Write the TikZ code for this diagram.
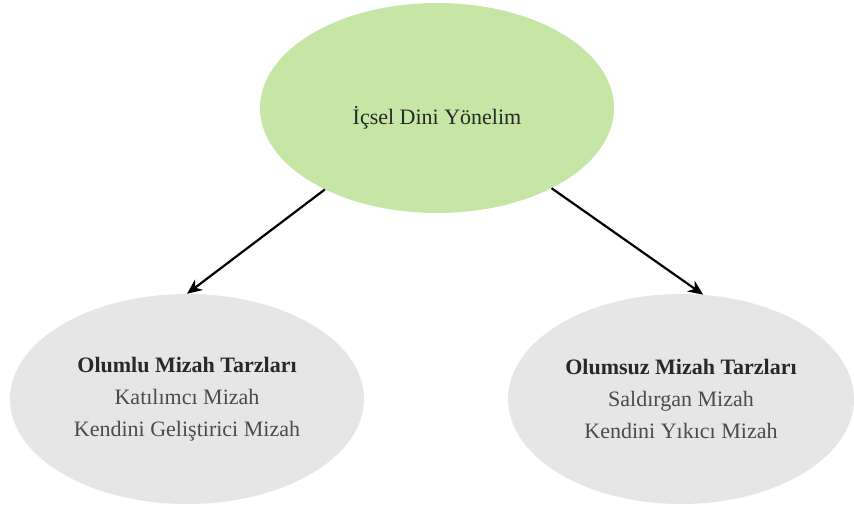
\documentclass[tikz,border=0pt]{standalone}
\usepackage{fontspec}
\setmainfont{Liberation Serif}
\usepackage{xcolor}
\usetikzlibrary{shapes.geometric, arrows.meta}

\definecolor{yesilDolgu}{RGB}{198,230,166}
\definecolor{griDolgu}{RGB}{230,230,230}
\definecolor{koyuYazi}{RGB}{40,40,40}
\definecolor{acikYazi}{RGB}{75,75,75}

\begin{document}
\begin{tikzpicture}[
		    x=1pt, y=-1pt,
		    every node/.style={ellipse, inner sep=0pt, align=center, font=\fontsize{22}{32}\selectfont},
		    ok/.style={line width=2.2pt, -{Stealth[length=15pt, width=13pt]}}
		]
		\tikzset{
		    yesil/.style={fill=yesilDolgu, text=koyuYazi, minimum width=354pt, minimum height=210pt},
		    gri/.style={fill=griDolgu, text=acikYazi, minimum height=210pt}
		}
		\useasboundingbox (0,0) rectangle (854,509);
		\node[yesil] (icsel) at (437,108) {\raisebox{-9pt}[20pt][5pt]{İçsel Dini Yönelim}};
		\node[gri, minimum width=354pt] (olumlu) at (187,399)
		  {\textcolor{koyuYazi}{\textbf{Olumlu Mizah Tarzları}}\\Katılımcı Mizah\\Kendini Geliştirici Mizah};
		\node[gri, minimum width=346pt] (olumsuz) at (681,399)
		  {\textcolor{koyuYazi}{\textbf{Olumsuz Mizah Tarzları}}\\Saldırgan Mizah\\Kendini Yıkıcı Mizah};
		\draw[ok] (icsel.216) -- (olumlu.north);
		\draw[ok] (icsel.325) -- (olumsuz.78);
		\end{tikzpicture}
\end{document}
